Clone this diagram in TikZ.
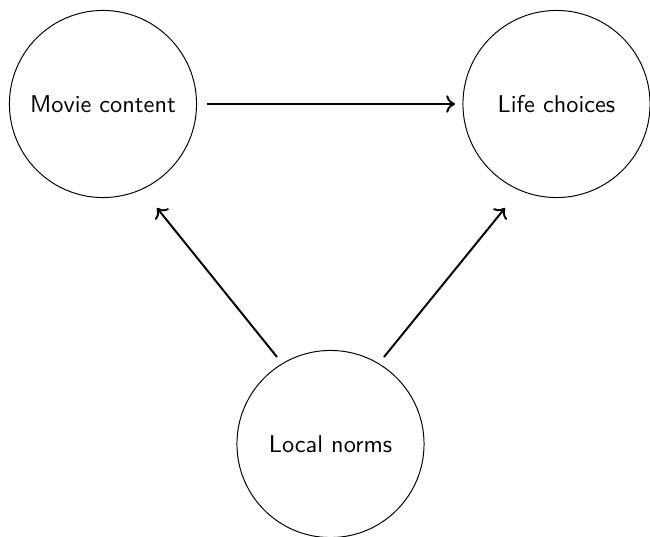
\documentclass[tikz,border=0pt]{standalone}
\usetikzlibrary{calc,arrows.meta}
\begin{document}
\begin{tikzpicture}[x=0.4115pt,y=-0.4115pt,
  var/.style={draw,circle,line width=0.4pt,minimum size=77pt,inner sep=0pt,font=\sffamily},
  arr/.style={-{To[length=3.6pt,width=7.2pt]},line width=0.8pt}]
\useasboundingbox (0,0) rectangle (650,537);
\node[var] (mc) at (103,104) {Movie content};
\node[var] (lc) at (556.5,104) {Life choices};
\node[var] (ln) at (330.5,444) {Local norms};
\draw[arr] ($(mc.center)+(104,0)$) -- ($(lc.center)+(-101.5,0)$);
\draw[arr] ($(ln.center)+(-53.5,-87)$) -- ($(mc.center)+(54,104)$);
\draw[arr] ($(ln.center)+(53.5,-87)$) -- ($(lc.center)+(-51.5,104)$);
\end{tikzpicture}
\end{document}
